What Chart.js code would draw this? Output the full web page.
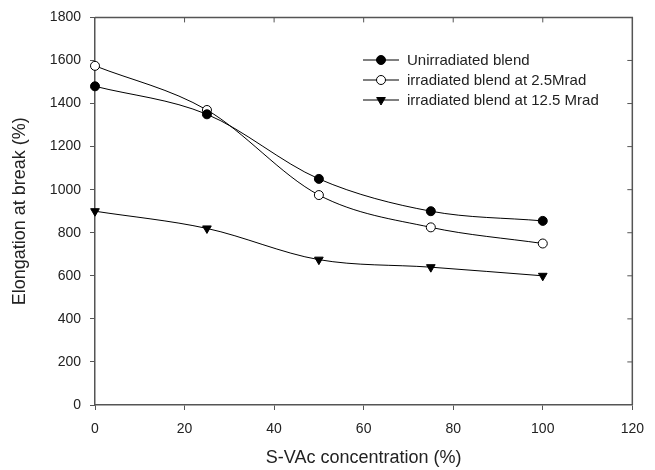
<!DOCTYPE html>
<html>
<head>
<meta charset="utf-8">
<script src="https://cdn.jsdelivr.net/npm/chart.js@4.4.1/dist/chart.umd.min.js"></script>
<style>
    html, body { margin: 0; padding: 0; background: #fff; }
    #wrap { width: 655px; height: 470px; }
</style>
</head>
<body>
<div id="wrap"><canvas id="chart"></canvas></div>
<script>
// data
const concentration = [0, 25, 50, 75, 100];
const unirradiated = [1480, 1350, 1050, 900, 855];
const irradiated25 = [1575, 1370, 975, 825, 750];
const irradiated125 = [900, 820, 675, 640, 600];
const seriesNames = ['Unirradiated blend', 'irradiated blend at 2.5Mrad', 'irradiated blend at 12.5 Mrad'];

const axisColor = '#555';
const textColor = '#222';
const fontFamily = '"Liberation Sans", Arial, sans-serif';

function toPoints(values) {
    return concentration.map((x, i) => ({ x: x, y: values[i] }));
}

// box frame with inward ticks on top and right, plus legend inside plot
const framePlugin = {
    id: 'frame',
    afterDraw(chart) {
        const ctx = chart.ctx;
        const area = chart.chartArea;
        const xs = chart.scales.x;
        const ys = chart.scales.y;
        ctx.save();
        ctx.strokeStyle = axisColor;
        ctx.lineWidth = 1.5;
        ctx.beginPath();
        ctx.moveTo(area.left, area.top);
        ctx.lineTo(area.right, area.top);
        ctx.lineTo(area.right, area.bottom);
        ctx.stroke();
        ctx.lineWidth = 1;
        ctx.beginPath();
        xs.ticks.forEach(t => {
            const px = xs.getPixelForValue(t.value);
            if (t.value > xs.min && t.value < xs.max) {
                ctx.moveTo(px, area.top);
                ctx.lineTo(px, area.top + 5);
            }
        });
        ys.ticks.forEach(t => {
            const py = ys.getPixelForValue(t.value);
            if (t.value > ys.min && t.value < ys.max) {
                ctx.moveTo(area.right, py);
                ctx.lineTo(area.right - 5, py);
            }
        });
        ctx.stroke();

        // legend
        const lx = 363, ly = 60, rowH = 20;
        ctx.font = '15px ' + fontFamily;
        ctx.textBaseline = 'middle';
        ctx.textAlign = 'left';
        chart.data.datasets.forEach((ds, i) => {
            const y = ly + i * rowH;
            ctx.strokeStyle = '#000';
            ctx.lineWidth = 1;
            ctx.beginPath();
            ctx.moveTo(lx, y);
            ctx.lineTo(lx + 36, y);
            ctx.stroke();
            ctx.fillStyle = ds.pointBackgroundColor;
            ctx.strokeStyle = ds.pointBorderColor;
            Chart.helpers.drawPoint(ctx, {
                pointStyle: ds.pointStyle,
                rotation: ds.pointRotation || 0,
                radius: ds.pointRadius,
                borderWidth: 1
            }, lx + 18, y);
            ctx.fillStyle = textColor;
            ctx.fillText(ds.label, lx + 44, y + 1);
        });
        ctx.restore();
    }
};

const ctx = document.getElementById('chart').getContext('2d');
const chart = new Chart(ctx, {
    type: 'line',
    data: {
        datasets: [
            {
                label: seriesNames[0],
                data: toPoints(unirradiated),
                borderColor: '#000',
                borderWidth: 1,
                clip: false,
                pointStyle: 'circle',
                pointRadius: 4.5,
                pointBackgroundColor: '#000',
                pointBorderColor: '#000',
                pointBorderWidth: 1
            },
            {
                label: seriesNames[1],
                data: toPoints(irradiated25),
                borderColor: '#000',
                borderWidth: 1,
                clip: false,
                pointStyle: 'circle',
                pointRadius: 4.5,
                pointBackgroundColor: '#fff',
                pointBorderColor: '#000',
                pointBorderWidth: 1
            },
            {
                label: seriesNames[2],
                data: toPoints(irradiated125),
                borderColor: '#000',
                borderWidth: 1,
                clip: false,
                pointStyle: 'triangle',
                pointRotation: 180,
                pointRadius: 5,
                pointBackgroundColor: '#000',
                pointBorderColor: '#000',
                pointBorderWidth: 1
            }
        ]
    },
    options: {
        responsive: true,
        maintainAspectRatio: false,
        animation: false,
        cubicInterpolationMode: 'monotone',
        layout: {
            padding: { top: 15, right: 19, bottom: 1, left: 9 }
        },
        scales: {
            x: {
                type: 'linear',
                min: 0,
                max: 120,
                afterFit(scale) { scale.height = 64; },
                border: { color: axisColor, width: 1.5 },
                grid: { drawOnChartArea: false, tickLength: 5, color: axisColor },
                ticks: {
                    stepSize: 20,
                    padding: 11,
                    color: textColor,
                    maxRotation: 0,
                    font: { family: fontFamily, size: 14 },
                    callback: v => String(v)
                },
                title: {
                    display: true,
                    text: 'S-VAc concentration (%)',
                    color: textColor,
                    padding: 0,
                    font: { family: fontFamily, size: 18 }
                }
            },
            y: {
                min: 0,
                max: 1800,
                afterFit(scale) { scale.width = 86; },
                border: { color: axisColor, width: 1.5 },
                grid: { drawOnChartArea: false, tickLength: 5, color: axisColor },
                ticks: {
                    stepSize: 200,
                    padding: 9,
                    color: textColor,
                    font: { family: fontFamily, size: 14 },
                    callback: v => String(v)
                },
                title: {
                    display: true,
                    text: 'Elongation at break (%)',
                    color: textColor,
                    padding: 0,
                    font: { family: fontFamily, size: 18 }
                }
            }
        },
        plugins: {
            legend: { display: false },
            tooltip: { enabled: false }
        }
    },
    plugins: [framePlugin]
});
</script>
</body>
</html>
